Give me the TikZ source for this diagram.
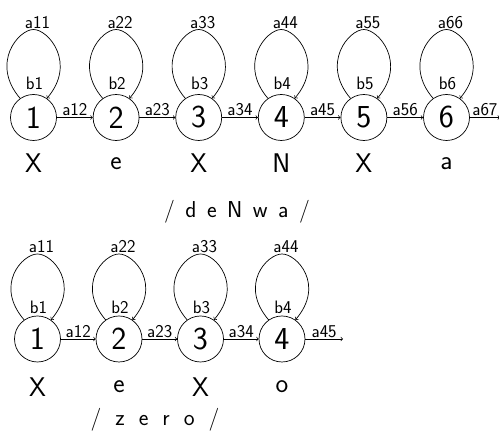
\documentclass[tikz,border=0pt]{standalone}
\usetikzlibrary{positioning,calc}

\begin{document}
\begin{tikzpicture}[x=1pt,y=1pt,line width=0.7pt,
    stnode/.style={circle,draw,minimum size=46pt,inner sep=0pt,font=\sffamily\fontsize{32}{34}\selectfont},
    trlabel/.style={font=\sffamily\fontsize{18}{19}\selectfont,inner sep=1pt},
    phone/.style={font=\sffamily\fontsize{27}{29}\selectfont},
    word/.style={font={\sffamily\fontsize{23}{25}\selectfont\spaceskip=#1\relax}},
    word/.default=10.5pt]
    \useasboundingbox (0,0) rectangle (499,433);
    % /deNwa/
    \foreach \i/\p in {1/X,2/e,3/X,4/N,5/X,6/a} {
        \node[stnode] (s\i) at ({33.5+82.6*(\i-1)},315.5) {\i};
        \node[phone] (p\i) at ($(s\i)+(0,-46)$) {\p};
        \coordinate (top\i) at ($(s\i)+(0,88)$);
        \draw[->] (s\i.125) .. controls +(-30,35) and +(-15,0) .. (top\i)
                            .. controls +(15,0) and +(30,35) .. (s\i.55);
        \node[trlabel] (a\i) at ($(s\i)+(4,95)$) {a\i\i};
        \node[trlabel] (b\i) at ($(s\i)+(1,34)$) {b\i};
    }
    \foreach \i/\j in {1/2,2/3,3/4,4/5,5/6}
        \draw[->] (s\i) -- node[trlabel,above] {a\i\j} (s\j);
    \coordinate (send) at (500,315.5);
    \draw[->] (s6) -- node[trlabel,above] {a67} (send);
    \node[word] (w1) at (237,221) {/ d e N w a /};
    % /zero/
    \foreach \i/\p in {1/X,2/e,3/X,4/o} {
        \node[stnode] (t\i) at ({37.5+81.5*(\i-1)},94) {\i};
        \node[phone] (q\i) at ($(t\i)+(0,-48)$) {\p};
        \coordinate (tp\i) at ($(t\i)+(0,85)$);
        \draw[->] (t\i.125) .. controls +(-30,35) and +(-15,0) .. (tp\i)
                            .. controls +(15,0) and +(30,35) .. (t\i.55);
        \node[trlabel] (c\i) at ($(t\i)+(4,92)$) {a\i\i};
        \node[trlabel] (d\i) at ($(t\i)+(1,32)$) {b\i};
    }
    \foreach \i/\j in {1/2,2/3,3/4}
        \draw[->] (t\i) -- node[trlabel,above] {a\i\j} (t\j);
    \coordinate (tend) at (343,94);
    \draw[->] (t4) -- node[trlabel,above] {a45} (tend);
    \node[word=14pt] (w2) at (155,13) {/ z e r o /};
\end{tikzpicture}
\end{document}
